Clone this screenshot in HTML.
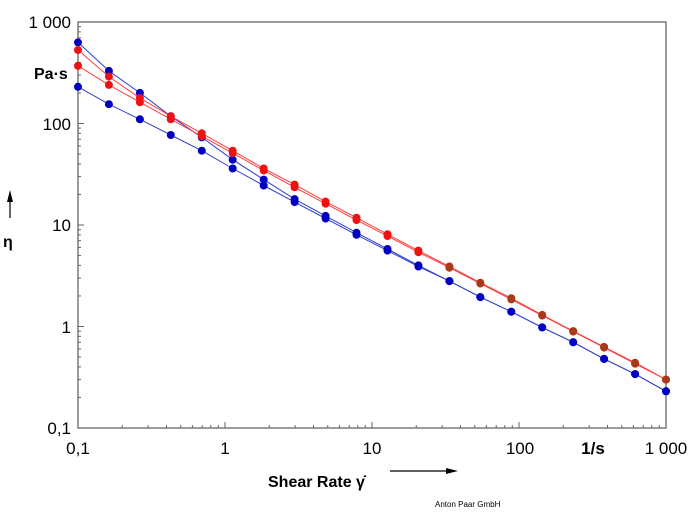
<!DOCTYPE html>
<html><head><style>
body{margin:0;background:#fff;width:698px;height:511px;overflow:hidden}
text{font-family:"Liberation Sans",sans-serif}
</style></head><body>
<svg id="s" width="698" height="511" xmlns="http://www.w3.org/2000/svg">
<rect x="78" y="22" width="588" height="406" fill="none" stroke="#666" stroke-width="1.3"/>
<g font-size="17" fill="#000" text-anchor="end">
<text x="71" y="28">1 000</text>
<text x="71" y="130">100</text>
<text x="71" y="231">10</text>
<text x="71" y="333">1</text>
<text x="71" y="434">0,1</text>
</g>
<text x="34" y="79" font-size="16" font-weight="bold">Pa·s</text>
<text x="3" y="247" font-size="16" font-weight="bold">η</text>
<line x1="10" y1="218" x2="10" y2="200" stroke="#000" stroke-width="1.2"/>
<polygon points="10,190 7,202 13,202" fill="#000"/>
<g font-size="17" fill="#000" text-anchor="middle">
<text x="78" y="454">0,1</text>
<text x="225" y="454">1</text>
<text x="372" y="454">10</text>
<text x="520" y="454">100</text>
<text x="666" y="454">1 000</text>
</g>
<text x="593" y="454" font-size="17" font-weight="bold" text-anchor="middle">1/s</text>
<text x="268" y="487" font-size="16" font-weight="bold">Shear Rate <tspan>γ̇</tspan></text>
<line x1="390" y1="471" x2="448" y2="471" stroke="#000" stroke-width="1.2"/>
<polygon points="458,471 446,468 446,474" fill="#000"/>
<text x="435" y="507" font-size="8">Anton Paar GmbH</text>
<g id="t"></g><g id="d"></g>
</svg>
<script>
var X=v=>78+147*Math.log10(v/0.1), Y=v=>428-101.5*Math.log10(v/0.1);
var PX=k=>78+k*588/19;
var t=document.getElementById('t'),h='';
for(var d=-1;d<3;d++)for(var m=1;m<10;m++){var v=m*Math.pow(10,d);
var L=m==1?6:3;h+='<line x1="'+X(v)+'" y1="428" x2="'+X(v)+'" y2="'+(428-L)+'" stroke="#666"/>';
h+='<line x1="78" y1="'+Y(v)+'" x2="'+(78+L)+'" y2="'+Y(v)+'" stroke="#666"/>';}
t.innerHTML=h;
var S=[
["#2b3fd0","#0000c0",[630,330,200,118,73,44,28,18,12.3,8.4,5.8,4.0,2.8,1.95,1.4,0.98,0.7,0.48,0.34,0.23]],
["#3040c8","#0000c0",[230,155,110,77,54,36,24.5,16.8,11.6,8.0,5.6,3.9,2.8,1.95,1.4,0.98,0.7,0.48,0.34,0.23]],
["#ff4040","#f01010",[530,290,178,118,80,54,36,25,17,11.8,8.1,5.6,3.9,2.7,1.9,1.3,0.9,0.63,0.44,0.30]],
["#ff4040","#f01010",[370,240,162,110,75,51,34.5,23.5,16.2,11.2,7.8,5.4,3.8,2.65,1.85,1.28,0.89,0.62,0.43,0.30]]];
var g='';
S.forEach(function(s){var p=s[2].map((v,k)=>PX(k).toFixed(1)+','+Y(v).toFixed(1));
g+='<polyline points="'+p.join(' ')+'" fill="none" stroke="'+s[0]+'" stroke-width="1"/>';});
S.forEach(function(s,i){s[2].forEach(function(v,k){var c=s[1];if(i>=2&&k>=12)c='#a83a1a';
g+='<circle cx="'+PX(k).toFixed(1)+'" cy="'+Y(v).toFixed(1)+'" r="4" fill="'+c+'"/>';});});
document.getElementById('d').innerHTML=g;
</script>
</body></html>
